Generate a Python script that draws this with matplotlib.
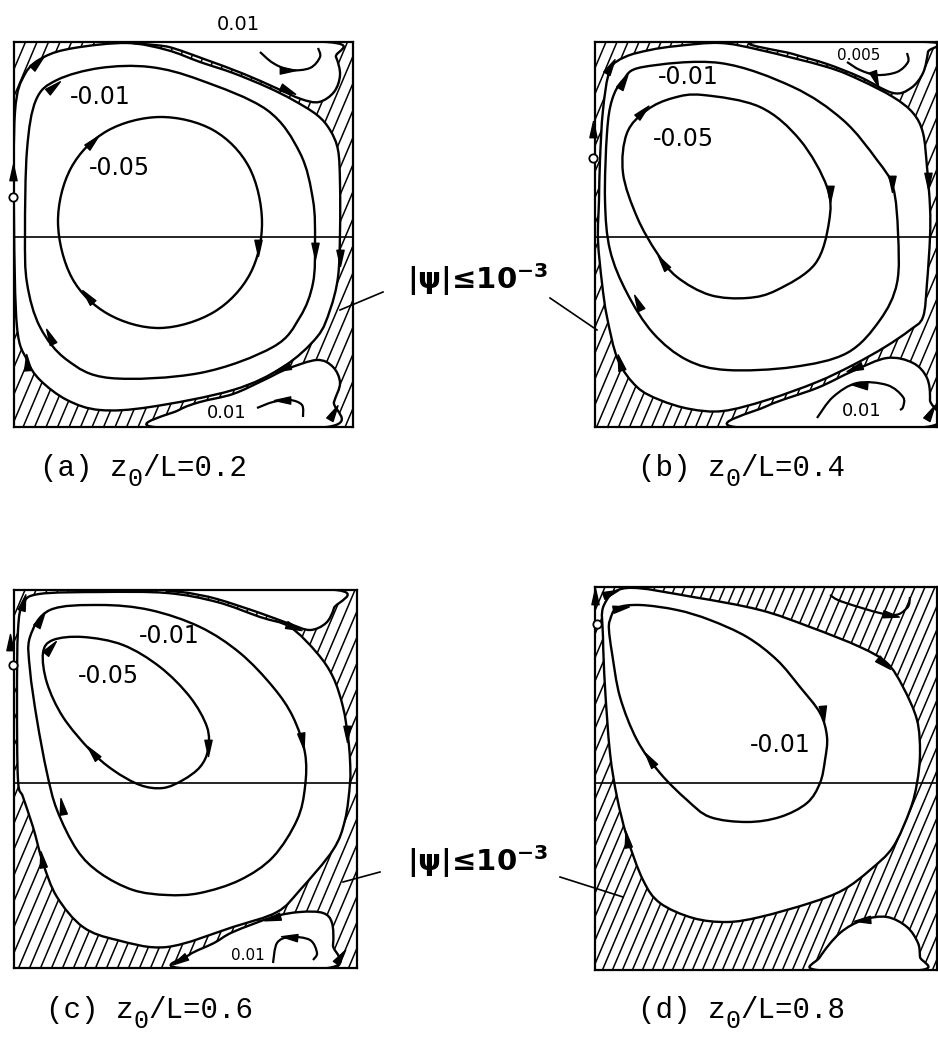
import numpy as np
import matplotlib
matplotlib.use('Agg')
import matplotlib.pyplot as plt
from matplotlib.path import Path
from matplotlib.patches import PathPatch
from matplotlib.collections import LineCollection
from matplotlib.markers import MarkerStyle
from matplotlib.transforms import Affine2D

plt.rcParams['mathtext.fontset'] = 'custom'
plt.rcParams['mathtext.rm'] = 'DejaVu Sans:bold'
plt.rcParams['mathtext.bf'] = 'DejaVu Sans:bold'

FW, FH = 938, 1042

# streamlines, local units = pixels from the box's top-left corner
A_INNER = [(146, 75), (199, 88), (235, 125), (248, 180), (236, 232), (200, 270), (146, 286), (94, 272),
           (58, 236), (44, 180), (57, 126), (93, 89)]
A_MIDDLE = [(43, 38), (86, 26), (136, 25), (186, 38), (253, 68), (286, 111), (299, 158), (301, 200),
            (299, 241), (286, 275), (259, 305), (186, 331), (96, 336), (53, 318), (26, 285), (13, 241),
            (11, 191), (13, 108), (22, 58)]
A_OUTER = [(1, 70), (11, 32), (30, 15), (60, 6), (113, 1), (153, 8), (186, 20), (219, 31),
           (253, 45), (279, 58), (303, 73), (316, 88), (324, 108), (326, 141), (326, 191), (324, 235),
           (316, 268), (303, 295), (269, 325), (219, 348), (136, 365), (86, 368), (53, 358), (26, 338),
           (13, 318), (3, 285), (0, 180)]
A_VORTEX_TOP = [(125, 0), (313, 0), (322, 15), (326, 33), (320, 50), (305, 60), (287, 57), (262, 46),
                (230, 32), (190, 17), (155, 5)]
A_VORTEX_BOT = [(140, 385), (165, 368), (186, 360), (219, 352), (250, 338), (273, 327), (303, 318),
                (319, 325), (326, 341), (320, 360), (313, 385)]
A_ARCS = [[(246, 10), (259, 21), (276, 28), (296, 26), (306, 15), (304, 6)],
          [(243, 366), (259, 360), (276, 358), (288, 363), (289, 375)]]
A_ARROWS = [(244, 205, -90), (74, 255, 130), (78, 100, 45), (39, 45, 40), (301, 208, -90), (36, 295, 115),
            (23, 21, 45), (13, 321, 95), (326, 215, -90), (273, 48, -25), (269, 326, 200), (273, 28, 0),
            (269, 358, 180), (319, 371, 60), (-1, 131, 90)]
A_CIRCLES = [(-1, 155)]
A_LABELS = [("0.01", 224, -17, 14), ("-0.01", 86, 55, 17), ("-0.05", 105, 126, 17), ("0.01", 213, 371, 13)]

B_INNER = [(108, 53), (165, 65), (205, 98), (232, 145), (234, 180), (220, 222), (182, 248), (152, 256),
           (115, 253), (82, 235), (62, 211), (42, 175), (28, 131), (32, 91), (52, 68), (78, 56)]
B_MIDDLE = [(28, 38), (48, 25), (125, 21), (198, 45), (248, 78), (282, 118), (298, 145), (303, 191),
            (302, 241), (285, 278), (252, 311), (198, 325), (132, 328), (92, 318), (58, 291), (32, 251),
            (15, 208), (10, 158), (12, 91), (17, 58)]
B_OUTER = [(3, 198), (4, 158), (5, 118), (8, 68), (15, 28), (30, 15), (55, 8), (82, 4), (125, 1), (165, 8),
           (232, 25), (265, 38), (298, 55), (318, 71), (328, 91), (332, 125), (335, 165), (335, 195),
           (332, 241), (328, 275), (315, 288), (290, 305), (258, 323), (222, 340), (172, 358), (128, 369),
           (95, 367), (65, 358), (42, 345), (23, 318), (12, 275), (7, 241)]
B_VORTEX_TOP = [(160, 0), (333, 0), (333, 10), (328, 31), (316, 46), (298, 51), (265, 35), (232, 22), (198, 12)]
B_VORTEX_BOT = [(140, 385), (172, 364), (222, 346), (258, 329), (292, 316), (318, 321), (332, 336),
                (335, 358), (331, 385)]
B_ARCS = [[(252, 20), (265, 28), (282, 33), (302, 30), (313, 20), (312, 11)],
          [(222, 376), (238, 355), (262, 341), (292, 343), (308, 355), (308, 365), (305, 368)]]
B_ARROWS = [(47, 70, 45), (235, 151, -90), (68, 221, 125), (28, 40, 60), (297, 141, -90), (43, 261, 115),
            (333, 138, -90), (25, 321, 105), (15, 25, 60), (260, 326, 200), (280, 36, -70), (265, 343, 175),
            (335, 371, 60), (-2, 88, 90)]
B_CIRCLES = [(-2, 116)]
B_LABELS = [("-0.01", 93, 35, 17), ("-0.05", 88, 97, 17), ("0.005", 264, 13, 11), ("0.01", 267, 369, 13)]

C_INNER = [(29, 63), (39, 50), (69, 47), (109, 55), (146, 77), (176, 107), (193, 137), (194, 160),
           (186, 177), (169, 190), (149, 198), (126, 195), (99, 180), (76, 160), (49, 127), (33, 93)]
C_MIDDLE = [(16, 47), (36, 20), (86, 15), (136, 20), (186, 37), (226, 63), (259, 97), (279, 127),
            (291, 163), (291, 197), (283, 230), (259, 267), (226, 290), (186, 303), (153, 305), (119, 300),
            (86, 283), (63, 260), (43, 220), (33, 183), (23, 130), (16, 80)]
C_OUTER = [(25, 4), (86, 2), (153, 3), (203, 12), (246, 27), (276, 37), (303, 63), (319, 87), (329, 117),
           (334, 147), (336, 170), (336, 193), (331, 230), (319, 260), (286, 300), (263, 322), (219, 337),
           (153, 357), (103, 350), (69, 337), (43, 307), (29, 273), (19, 237), (9, 207), (4, 190), (3, 110),
           (4, 40), (9, 14)]
C_VORTEX_TOP = [(160, 0), (322, 0), (320, 18), (312, 33), (296, 40), (276, 34), (246, 23), (203, 9), (175, 3)]
C_VORTEX_BOT = [(166, 378), (175, 365), (200, 353), (219, 342), (259, 327), (286, 322), (309, 323),
                (318, 333), (319, 355), (314, 378)]
C_ARCS = [[(259, 373), (263, 353), (276, 347), (296, 350), (303, 363), (299, 370)]]
C_ARROWS = [(36, 58, 50), (194, 157, -90), (79, 163, 130), (26, 30, 60), (288, 150, -80), (48, 217, 100),
            (28, 270, 100), (333, 143, -90), (9, 13, 75), (279, 37, -20), (259, 328, 195), (276, 347, 175),
            (326, 367, 55), (166, 370, 210), (-4, 53, 90)]
C_CIRCLES = [(-1, 75)]
C_LABELS = [("-0.01", 155, 46, 17), ("-0.05", 94, 86, 17), ("0.01", 234, 366, 11)]

D_LOOP = [(15, 33), (22, 21), (45, 18), (82, 23), (115, 33), (152, 50), (182, 73), (205, 100), (225, 126),
          (232, 150), (230, 173), (225, 196), (212, 216), (185, 230), (152, 235), (115, 230), (92, 213),
          (65, 186), (42, 153), (25, 110), (17, 66), (14, 43)]
D_OUTER = [(32, 1), (98, 10), (165, 23), (215, 40), (265, 60), (292, 76), (308, 100), (322, 133), (325, 166),
           (322, 196), (315, 223), (298, 260), (275, 283), (248, 303), (215, 316), (165, 330), (132, 335),
           (98, 331), (65, 316), (48, 293), (32, 250), (22, 210), (15, 166), (10, 100), (8, 50), (9, 18)]
D_VORTEX_BOT = [(222, 383), (225, 370), (245, 346), (268, 333), (292, 330), (312, 340), (323, 356),
                (325, 370), (326, 383)]
D_ARCS = [[(235, 8), (248, 15), (295, 28), (312, 21), (315, 10)]]
D_ARROWS = [(25, 21, 10), (228, 126, -85), (55, 173, 125), (288, 76, -40), (32, 253, 100), (15, 6, 20),
            (268, 333, 185), (295, 28, -10), (0, 10, 90)]
D_CIRCLES = [(2, 37)]
D_LABELS = [("-0.01", 185, 158, 17)]

MIDLINES = [195, 195, 193, 196]
# captions split as  "(a) z" + lowered "0" + "/L=0.2"
CAPTION_HEADS = ['(a) z', '(b) z', '(c) z', '(d) z']
CAPTION_SUB = '0'
CAPTION_TAILS = ['/L=0.2', '/L=0.4', '/L=0.6', '/L=0.8']
PSI_TEXT = r'$\mathbf{|ψ|≤10^{-3}}$'

# layout (figure pixels)
BOXES = [(14, 42, 339, 385), (595, 42, 342, 385), (14, 590, 343, 378), (595, 587, 342, 383)]
CAPTION_POS = [(40, 468), (638, 468), (46, 1010), (638, 1010)]
CAPTION_SIZE = 21
PSI_POS = [(478, 280), (478, 862)]
LEADERS = [((383, 292), (340, 310)), ((550, 298), (597, 330)),
           ((380, 872), (343, 882)), ((560, 877), (623, 897))]
HATCH_STEP = [11.5, 11, 11, 10]
HATCH_ANGLE = 67

PANELS = [
    dict(white=[A_OUTER, A_VORTEX_TOP, A_VORTEX_BOT], loops=[A_INNER, A_MIDDLE, A_OUTER, A_VORTEX_TOP, A_VORTEX_BOT],
         arcs=A_ARCS, arrows=A_ARROWS, circles=A_CIRCLES, labels=A_LABELS),
    dict(white=[B_OUTER, B_VORTEX_TOP, B_VORTEX_BOT], loops=[B_INNER, B_MIDDLE, B_OUTER, B_VORTEX_TOP, B_VORTEX_BOT],
         arcs=B_ARCS, arrows=B_ARROWS, circles=B_CIRCLES, labels=B_LABELS),
    dict(white=[C_OUTER, C_VORTEX_TOP, C_VORTEX_BOT], loops=[C_INNER, C_MIDDLE, C_OUTER, C_VORTEX_TOP, C_VORTEX_BOT],
         arcs=C_ARCS, arrows=C_ARROWS, circles=C_CIRCLES, labels=C_LABELS),
    dict(white=[D_OUTER, D_VORTEX_BOT], loops=[D_LOOP, D_OUTER, D_VORTEX_BOT],
         arcs=D_ARCS, arrows=D_ARROWS, circles=D_CIRCLES, labels=D_LABELS),
]


def smooth_path(pts, closed=True):
    # catmull-rom through the read points, handed to matplotlib as cubic beziers
    p = np.asarray(pts, float)
    n = len(p)
    if closed:
        ext = np.vstack([p[-1:], p, p[:2]])
        nseg = n
    else:
        ext = np.vstack([p[:1], p, p[-1:]])
        nseg = n - 1
    verts = [p[0]]
    codes = [Path.MOVETO]
    for i in range(nseg):
        p0, p1, p2, p3 = ext[i], ext[i + 1], ext[i + 2], ext[i + 3]
        verts += [p1 + (p2 - p0) / 6, p2 - (p3 - p1) / 6, p2]
        codes += [Path.CURVE4] * 3
    if closed:
        verts.append(p[0])
        codes.append(Path.CLOSEPOLY)
    return Path(verts, codes)


ARROW_PATH = Path([(0, 1), (-0.4, -0.8), (0.4, -0.8), (0, 1)],
                  [Path.MOVETO, Path.LINETO, Path.LINETO, Path.CLOSEPOLY])


def arrow_marker(angle):
    return MarkerStyle(ARROW_PATH, transform=Affine2D().rotate_deg(angle - 90))


def draw_panel(fig, box, panel, mid, step):
    x0, y0, w, h = box
    ax = fig.add_axes([x0 / FW, 1 - (y0 + h) / FH, w / FW, h / FH])
    ax.set_xlim(0, w)
    ax.set_ylim(h, 0)
    ax.set_xticks([])
    ax.set_yticks([])
    for s in ax.spines.values():
        s.set_linewidth(1.6)

    k = 1 / np.tan(np.radians(HATCH_ANGLE))
    segs = [[(c, h), (c + h * k, 0)] for c in np.arange(-h * k, w + step, step)]
    ax.add_collection(LineCollection(segs, colors='k', linewidths=1.1, zorder=1))

    for region in panel['white']:
        ax.add_patch(PathPatch(smooth_path(region), fc='white', ec='none', zorder=2))
    ax.axhline(mid, color='k', lw=1.2, zorder=3)
    for loop in panel['loops']:
        ax.add_patch(PathPatch(smooth_path(loop), fc='none', ec='k', lw=1.7, zorder=4))
    for arc in panel['arcs']:
        ax.add_patch(PathPatch(smooth_path(arc, closed=False), fc='none', ec='k', lw=1.6, zorder=4))
    for x, y, a in panel['arrows']:
        ax.plot(x, y, marker=arrow_marker(a), ms=13, color='k', zorder=5, clip_on=False)
    for x, y in panel['circles']:
        ax.plot(x, y, 'o', ms=6, mfc='white', mec='k', mew=1.3, zorder=6, clip_on=False)
    for txt, x, y, size in panel['labels']:
        ax.text(x, y, txt, fontsize=size, ha='center', va='center', zorder=6)
    return ax


fig = plt.figure(figsize=(FW / 100, FH / 100), dpi=100)
for box, panel, mid, step in zip(BOXES, PANELS, MIDLINES, HATCH_STEP):
    draw_panel(fig, box, panel, mid, step)

ov = fig.add_axes([0, 0, 1, 1])
ov.set_xlim(0, FW)
ov.set_ylim(FH, 0)
ov.axis('off')
ov.patch.set_alpha(0)
char_w = CAPTION_SIZE * 100 / 72 * 0.6  # monospace advance in pixels
for (x, y), head, tail in zip(CAPTION_POS, CAPTION_HEADS, CAPTION_TAILS):
    ov.text(x, y, head, fontsize=CAPTION_SIZE, family='Liberation Mono', ha='left', va='center')
    xs = x + len(head) * char_w
    ov.text(xs, y + 11, CAPTION_SUB, fontsize=CAPTION_SIZE - 3, family='Liberation Mono',
            ha='left', va='center')
    ov.text(xs + 0.85 * char_w, y, tail, fontsize=CAPTION_SIZE, family='Liberation Mono',
            ha='left', va='center')
for x, y in PSI_POS:
    ov.text(x, y, PSI_TEXT, fontsize=21, ha='center', va='center')
for (xa, ya), (xb, yb) in LEADERS:
    ov.plot([xa, xb], [ya, yb], color='k', lw=1.2)

fig.savefig('out.png', dpi=100, facecolor='white')
